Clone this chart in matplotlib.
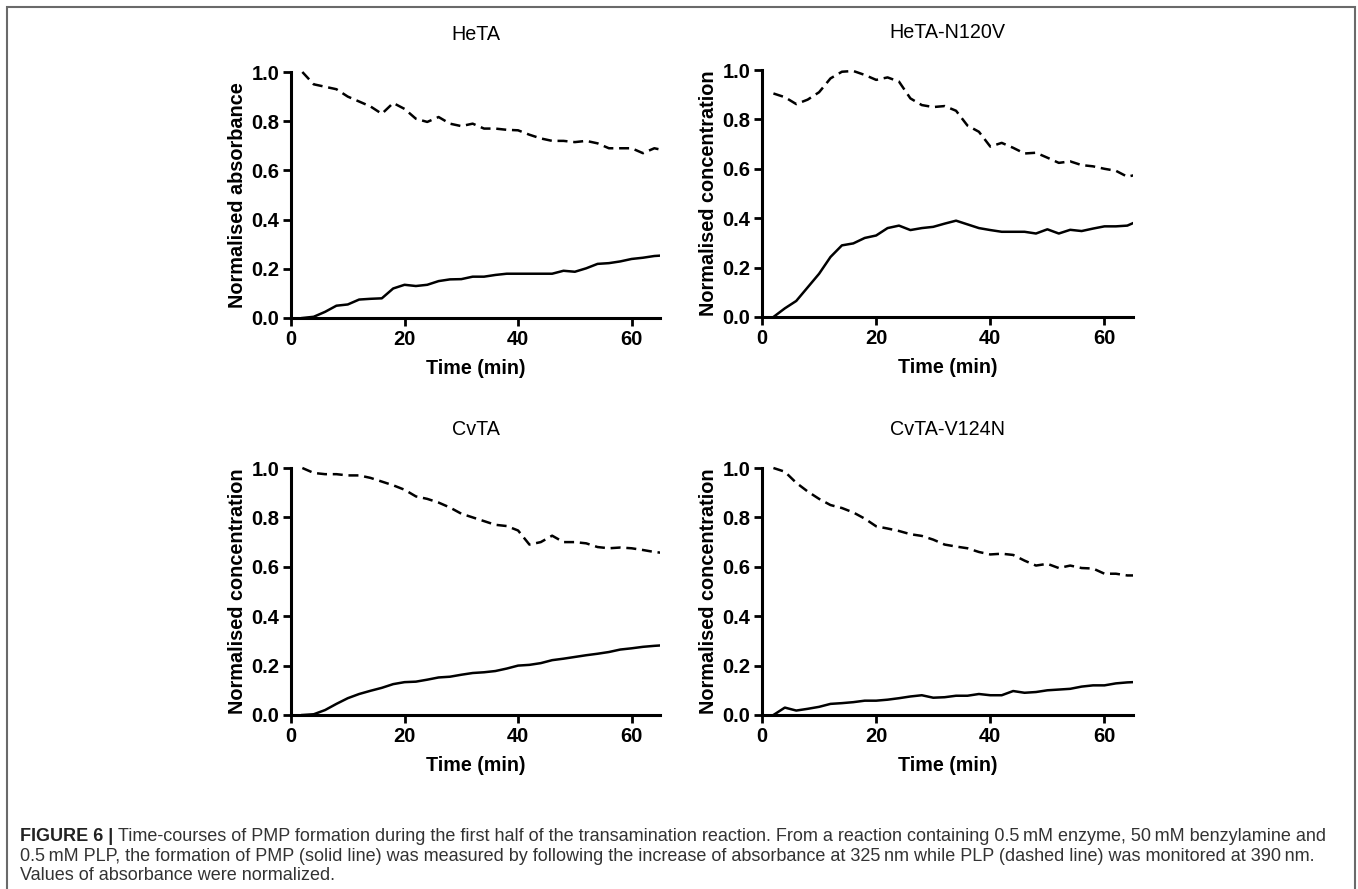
import matplotlib
matplotlib.use("Agg")
import matplotlib.pyplot as plt
from matplotlib.patches import Rectangle

plt.rcParams['font.family'] = ['Liberation Sans', 'DejaVu Sans']

time_min = list(range(2, 67, 2))

titles = ["HeTA", "HeTA-N120V", "CvTA", "CvTA-V124N"]
ylabels = ["Normalised absorbance", "Normalised concentration",
           "Normalised concentration", "Normalised concentration"]

heta_plp = [1.0, 0.95, 0.94, 0.93, 0.90, 0.88, 0.86, 0.83, 0.874, 0.85, 0.81, 0.797,
            0.817, 0.79, 0.78, 0.79, 0.77, 0.77, 0.765, 0.763, 0.745, 0.73, 0.72, 0.72,
            0.715, 0.72, 0.71, 0.69, 0.69, 0.69, 0.67, 0.69, 0.68]
heta_pmp = [0.0, 0.005, 0.025, 0.05, 0.055, 0.075, 0.078, 0.08, 0.12, 0.135, 0.13, 0.135,
            0.15, 0.157, 0.158, 0.168, 0.168, 0.175, 0.18, 0.18, 0.18, 0.18, 0.18, 0.192,
            0.188, 0.202, 0.22, 0.223, 0.23, 0.24, 0.245, 0.252, 0.255]

n120v_plp = [0.905, 0.89, 0.862, 0.88, 0.91, 0.966, 0.993, 0.996, 0.98, 0.96, 0.97, 0.953,
             0.885, 0.858, 0.85, 0.854, 0.835, 0.775, 0.75, 0.69, 0.705, 0.685, 0.662, 0.665,
             0.645, 0.624, 0.63, 0.615, 0.61, 0.60, 0.592, 0.568, 0.578]
n120v_pmp = [0.0, 0.035, 0.065, 0.12, 0.175, 0.243, 0.29, 0.298, 0.32, 0.33, 0.36, 0.37,
             0.352, 0.36, 0.365, 0.378, 0.39, 0.375, 0.36, 0.352, 0.345, 0.345, 0.345, 0.338,
             0.355, 0.338, 0.353, 0.348, 0.358, 0.367, 0.367, 0.37, 0.39]

cvta_plp = [1.0, 0.98, 0.975, 0.975, 0.97, 0.97, 0.96, 0.945, 0.93, 0.912, 0.885, 0.875,
            0.86, 0.84, 0.815, 0.80, 0.785, 0.77, 0.765, 0.747, 0.69, 0.70, 0.726, 0.70,
            0.70, 0.695, 0.68, 0.675, 0.678, 0.675, 0.668, 0.66, 0.655]
cvta_pmp = [0.0, 0.003, 0.02, 0.045, 0.068, 0.085, 0.098, 0.11, 0.125, 0.133, 0.135, 0.143,
            0.152, 0.155, 0.163, 0.17, 0.173, 0.178, 0.188, 0.2, 0.203, 0.21, 0.222, 0.228,
            0.235, 0.242, 0.248, 0.255, 0.265, 0.27, 0.276, 0.28, 0.283]

v124n_plp = [1.0, 0.985, 0.94, 0.905, 0.875, 0.85, 0.838, 0.82, 0.795, 0.764, 0.755, 0.745,
             0.732, 0.725, 0.71, 0.69, 0.682, 0.675, 0.66, 0.65, 0.653, 0.648, 0.625, 0.605,
             0.612, 0.595, 0.605, 0.595, 0.593, 0.572, 0.572, 0.565, 0.565]
v124n_pmp = [0.0, 0.03, 0.018, 0.025, 0.033, 0.045, 0.048, 0.052, 0.058, 0.058, 0.062, 0.068,
             0.075, 0.08, 0.07, 0.072, 0.078, 0.078, 0.085, 0.08, 0.08, 0.097, 0.09, 0.093,
             0.10, 0.103, 0.106, 0.115, 0.12, 0.12, 0.128, 0.132, 0.134]

plp_series = [heta_plp, n120v_plp, cvta_plp, v124n_plp]
pmp_series = [heta_pmp, n120v_pmp, cvta_pmp, v124n_pmp]

x_ticks = [0, 20, 40, 60]
y_ticks = [0.0, 0.2, 0.4, 0.6, 0.8, 1.0]

caption_bold = "FIGURE 6 | "
caption_lines = [
    "Time-courses of PMP formation during the first half of the transamination reaction. "
    "From a reaction containing 0.5\u2009mM enzyme, 50\u2009mM benzylamine and",
    "0.5\u2009mM PLP, the formation of PMP (solid line) was measured by following the "
    "increase of absorbance at 325\u2009nm while PLP (dashed line) was monitored at 390\u2009nm.",
    "Values of absorbance were normalized.",
]

W, H = 1358, 889
fig = plt.figure(figsize=(W / 100, H / 100), dpi=100)

# panel boxes in pixels: left, top(y=1), right(x=65), bottom(y=0)
boxes = [(291, 72, 660, 318), (762, 70, 1133, 317),
         (291, 468, 660, 715), (762, 468, 1133, 715)]

for i, (l, t, r, b) in enumerate(boxes):
    ax = fig.add_axes([l / W, 1 - b / H, (r - l) / W, (b - t) / H])
    ln1, = ax.plot(time_min, plp_series[i], color='black', lw=1.8, dashes=(4, 2.3))
    ln2, = ax.plot(time_min, pmp_series[i], color='black', lw=1.8, solid_joinstyle='round')
    clip = Rectangle((0, -0.05), 1, 1.1, transform=ax.transAxes, fill=False)
    for ln in (ln1, ln2):
        ln.set_clip_path(clip)
    ax.set_xlim(0, 65)
    ax.set_ylim(0, 1.0)
    ax.set_xticks(x_ticks)
    ax.set_yticks(y_ticks)
    ax.set_yticklabels([f"{v:.1f}" for v in y_ticks])
    for s in ['top', 'right']:
        ax.spines[s].set_visible(False)
    for s in ['left', 'bottom']:
        ax.spines[s].set_linewidth(2.2)
    ax.tick_params(width=2.0, length=6, labelsize=14.5, pad=2.5)
    for lab in ax.get_xticklabels() + ax.get_yticklabels():
        lab.set_fontweight('bold')
    ax.set_xlabel("Time (min)", fontsize=14.2, fontweight='bold', labelpad=7)
    ax.set_ylabel(ylabels[i], fontsize=14.3, fontweight='bold', labelpad=3)
    fig.text(((l + r) / 2) / W, 1 - (t - 38) / H, titles[i], ha='center', va='center',
             fontsize=14.2)

# border
fig.patches.append(Rectangle((7 / W, -0.05), (1355 - 7) / W, 1 - 6.5 / H + 0.05,
                             transform=fig.transFigure, fill=False,
                             edgecolor='#6a6a6a', lw=1.5))

# caption: size fitted so that the first line spans the text block width
renderer = fig.canvas.get_renderer()
x0 = 20 / W
target_right = 1332
base_ys = [841, 861, 880]


def draw_caption(size):
    texts = []
    tb = fig.text(x0, 1 - base_ys[0] / H, caption_bold, fontsize=size, fontweight='bold',
                  color='#222222', va='baseline')
    bb = tb.get_window_extent(renderer=renderer)
    t1 = fig.text(bb.x1 / W, 1 - base_ys[0] / H, caption_lines[0], fontsize=size,
                  color='#333333', va='baseline')
    texts += [tb, t1]
    for k in (1, 2):
        texts.append(fig.text(x0, 1 - base_ys[k] / H, caption_lines[k], fontsize=size,
                              color='#333333', va='baseline'))
    return texts, t1.get_window_extent(renderer=renderer).x1


size = 12.5
texts, right = draw_caption(size)
new_size = size * (target_right - 20) / (right - 20)
for t in texts:
    t.remove()
draw_caption(new_size)

fig.savefig("out.png", dpi=100)
